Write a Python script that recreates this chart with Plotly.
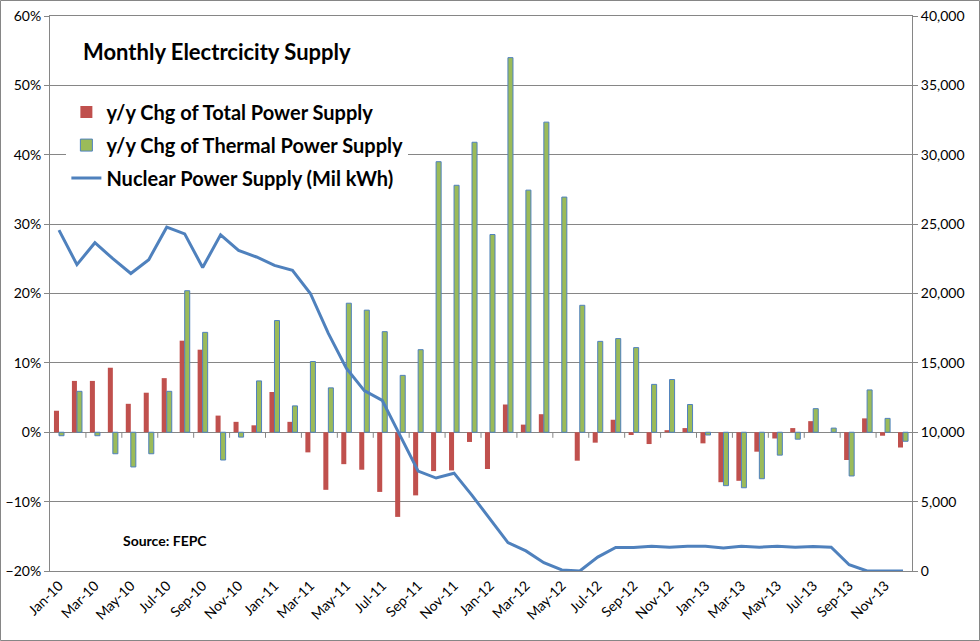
import plotly.graph_objects as go

# =========================
# DATA
# =========================
months = [
    "Jan-10", "Feb-10", "Mar-10", "Apr-10", "May-10", "Jun-10", "Jul-10", "Aug-10", "Sep-10", "Oct-10", "Nov-10", "Dec-10",
    "Jan-11", "Feb-11", "Mar-11", "Apr-11", "May-11", "Jun-11", "Jul-11", "Aug-11", "Sep-11", "Oct-11", "Nov-11", "Dec-11",
    "Jan-12", "Feb-12", "Mar-12", "Apr-12", "May-12", "Jun-12", "Jul-12", "Aug-12", "Sep-12", "Oct-12", "Nov-12", "Dec-12",
    "Jan-13", "Feb-13", "Mar-13", "Apr-13", "May-13", "Jun-13", "Jul-13", "Aug-13", "Sep-13", "Oct-13", "Nov-13", "Dec-13",
]

# y/y change of total power supply (%)
total_chg = [
    3.1, 7.4, 7.4, 9.3, 4.1, 5.7, 7.8, 13.2, 11.9, 2.4, 1.5, 1.0,
    5.8, 1.5, -2.9, -8.3, -4.6, -5.4, -8.6, -12.2, -9.1, -5.6, -5.5, -1.4,
    -5.3, 4.0, 1.1, 2.6, 0.0, -4.1, -1.5, 1.8, -0.4, -1.7, 0.3, 0.6,
    -1.6, -7.2, -7.0, -2.8, -0.9, 0.6, 1.6, 0.0, -4.0, 2.0, -0.5, -2.2,
]

# y/y change of thermal power supply (%)
thermal_chg = [
    -0.5, 5.9, -0.5, -3.1, -5.0, -3.1, 5.9, 20.4, 14.4, -4.0, -0.7, 7.4,
    16.1, 3.8, 10.2, 6.4, 18.6, 17.6, 14.5, 8.2, 11.9, 39.0, 35.6, 41.8,
    28.5, 54.0, 34.9, 44.7, 33.9, 18.3, 13.1, 13.5, 12.2, 6.9, 7.6, 4.0,
    -0.4, -7.7, -8.0, -6.7, -3.3, -1.0, 3.4, 0.6, -6.3, 6.1, 2.0, -1.3,
]

# nuclear power supply (Mil kWh)
nuclear = [
    24570, 22080, 23660, 22510, 21440, 22440, 24780, 24300, 21870, 24230, 23110, 22630,
    22030, 21670, 20000, 17130, 14620, 13000, 12300, 9800, 7200, 6700, 7050, 5450,
    3750, 2050, 1450, 600, 80, 0, 1000, 1700, 1700, 1780, 1720, 1780,
    1780, 1650, 1780, 1720, 1780, 1720, 1760, 1720, 450, 0, 0, 0,
]

label_months = months[::2]

RED = "#C0504D"
GREEN = "#9BBB59"
BLUE = "#4F81BD"
GRID = "#868686"
FONT = "Lato"

fig = go.Figure()

# =========================
# BARS + LINE
# =========================
fig.add_trace(go.Bar(
    x=months, y=total_chg,
    name="y/y Chg of Total Power Supply",
    legendgroup="a",
    marker=dict(color=RED, line=dict(width=0)),
))

fig.add_trace(go.Bar(
    x=months, y=thermal_chg,
    name="y/y Chg of Thermal Power Supply",
    legendgroup="b",
    marker=dict(color=GREEN, line=dict(color=BLUE, width=1)),
))

fig.add_trace(go.Scatter(
    x=months, y=nuclear,
    name="Nuclear Power Supply (Mil kWh)",
    legendgroup="c",
    mode="lines",
    line=dict(color=BLUE, width=3),
    yaxis="y2",
))

# small category tick marks hanging below the 0% line, every 2 months
shapes = []
for k in range(1, len(months) - 1, 2):
    shapes.append(dict(
        type="line", xref="x", yref="y",
        x0=k + 0.5, x1=k + 0.5, y0=0, y1=-0.8,
        line=dict(color=GRID, width=1),
    ))

# outer chart border
shapes.append(dict(
    type="rect", xref="paper", yref="paper",
    x0=-49.5 / 862, x1=1 + 67.5 / 862, y0=-69.5 / 555, y1=1 + 15.5 / 555,
    line=dict(color=GRID, width=1), layer="below",
))

fig.update_layout(
    width=980,
    height=641,
    margin=dict(l=50, r=68, t=16, b=70, autoexpand=False),
    paper_bgcolor="white",
    plot_bgcolor="white",
    font=dict(family=FONT, size=14, color="black"),
    barmode="group",
    bargap=0.44,
    bargroupgap=0,
    showlegend=True,
    legend=dict(
        x=0.019, y=0.862, xanchor="left", yanchor="top",
        bgcolor="white",
        font=dict(family=FONT, size=20, color="black", weight="bold"),
        tracegroupgap=4,
        itemwidth=30,
    ),
    xaxis=dict(
        type="category",
        tickmode="array",
        tickvals=label_months,
        ticktext=label_months,
        tickangle=-45,
        tickfont=dict(size=14),
        showgrid=False,
        showline=True,
        linecolor=GRID,
        mirror=True,
        ticks="",
        automargin=False,
        range=[-0.5, len(months) - 0.5],
    ),
    yaxis=dict(
        range=[-20, 60],
        dtick=10,
        ticksuffix="%",
        showgrid=True,
        gridcolor=GRID,
        gridwidth=1,
        zeroline=True,
        zerolinecolor=GRID,
        zerolinewidth=1,
        showline=True,
        linecolor=GRID,
        ticks="outside",
        ticklen=5,
        tickcolor=GRID,
        automargin=False,
    ),
    yaxis2=dict(
        overlaying="y",
        side="right",
        range=[0, 40000],
        dtick=5000,
        tickformat=",",
        showgrid=False,
        zeroline=False,
        showline=True,
        linecolor=GRID,
        ticks="outside",
        ticklen=5,
        tickcolor=GRID,
        automargin=False,
    ),
    shapes=shapes,
    annotations=[
        dict(
            text="<b>Monthly Electrcicity Supply</b>",
            xref="paper", yref="paper",
            x=(81 - 50) / 862, y=1 - (51 - 16) / 555,
            xanchor="left", yanchor="middle",
            showarrow=False,
            font=dict(family=FONT, size=22, color="black"),
        ),
        dict(
            text="<b>Source: FEPC</b>",
            xref="paper", yref="paper",
            x=(121 - 50) / 862, y=1 - (540 - 16) / 555,
            xanchor="left", yanchor="middle",
            showarrow=False,
            font=dict(family=FONT, size=14, color="black"),
        ),
    ],
)

# page has a default 8px body margin; drop it so the figure sits at 0,0
fig.write_html(
    "out.html",
    config={"displayModeBar": False},
    post_script="document.body.style.margin='0';",
)
